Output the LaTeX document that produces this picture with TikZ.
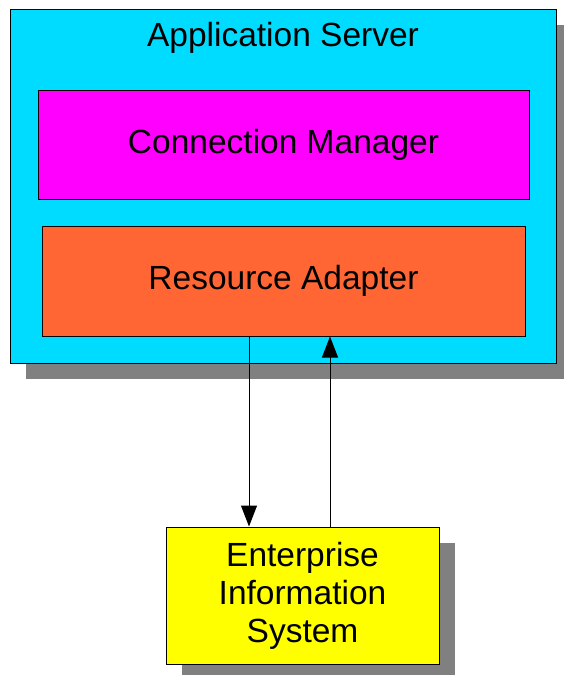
\documentclass[tikz,border=0pt]{standalone}
\usepackage{fontspec}
\setmainfont{Liberation Sans}
\usetikzlibrary{arrows.meta}
\definecolor{servercyan}{RGB}{0,220,255}
\definecolor{cmmagenta}{RGB}{255,0,255}
\definecolor{raorange}{RGB}{255,102,51}
\definecolor{eisyellow}{RGB}{255,255,0}
\definecolor{shadowgray}{RGB}{128,128,128}
\tikzset{
  box/.style={draw=black, line width=1pt, inner sep=0pt, align=center,
    font=\fontsize{33.5}{38}\selectfont},
  shadowbox/.style={fill=shadowgray, draw=none},
  arr/.style={draw=black, line width=1pt, -{Triangle[length=21pt,width=16pt]}}
}
\begin{document}
\begin{tikzpicture}[x=1pt,y=-1pt]
\useasboundingbox (0,0) rectangle (564,675);
\clip (0,0) rectangle (564,675);
\fill[white] (0,0) rectangle (564,675);
% shadows
\fill[shadowgray] (26,25) rectangle (572,379);
\fill[shadowgray] (182,543) rectangle (455,680);
% application server
\node[box, fill=servercyan, minimum width=546, minimum height=354] (app) at (283,186) {};
\node[font=\fontsize{33.5}{38}\selectfont, anchor=base, inner sep=0pt] (apptitle) at (283,46) {Application Server};
% connection manager
\node[box, fill=cmmagenta, minimum width=491, minimum height=109] (cm) at (283.5,145) {Connection Manager};
% resource adapter
\node[box, fill=raorange, minimum width=483, minimum height=110] (ra) at (283.5,281) {Resource Adapter};
% EIS
\node[box, fill=eisyellow, minimum width=273, minimum height=137] (eis) at (302.5,595.5) {Enterprise\\Information\\System};
% connectors
\draw[arr] ([xshift=-34.5]ra.south) -- ([xshift=-34.5]ra.south |- eis.north);
\draw[arr] ([xshift=27.5]eis.north) -- ([xshift=27.5]eis.north |- ra.south);
\end{tikzpicture}
\end{document}
